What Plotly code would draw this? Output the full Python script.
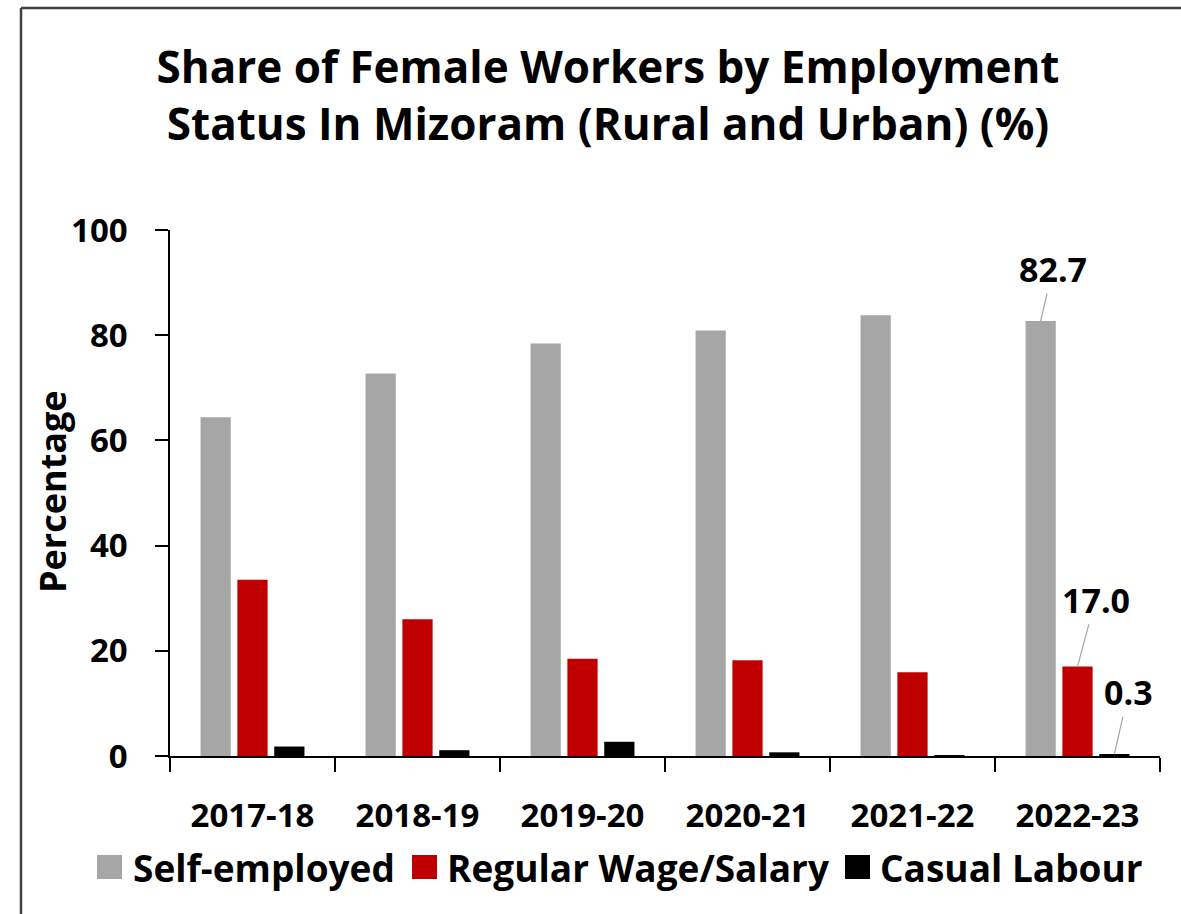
import plotly.graph_objects as go

years = ["2017-18", "2018-19", "2019-20", "2020-21", "2021-22", "2022-23"]
self_employed = [64.4, 72.7, 78.4, 80.9, 83.8, 82.7]
regular_wage = [33.5, 26.0, 18.5, 18.2, 15.9, 17.0]
casual_labour = [1.8, 1.1, 2.7, 0.7, 0.1, 0.3]

series_names = ["Self-employed", "Regular Wage/Salary", "Casual Labour"]
series_colors = ["#a6a6a6", "#c00000", "#000000"]
series_values = [self_employed, regular_wage, casual_labour]

FONT = "Open Sans"
BARGAP = 0.33

W, H = 1181, 914
L, R, T, B = 170, 21, 230, 158
pw, ph = W - L - R, H - T - B


def px_x(p):
    return (p - L) / pw


def px_y(p):
    return 1 - (p - T) / ph


fig = go.Figure()
for name, color, vals in zip(series_names, series_colors, series_values):
    fig.add_trace(go.Bar(x=years, y=vals, name=name, marker_color=color,
                         marker_line_width=0, showlegend=False))

# data labels for last year with leader lines
n = len(series_values)
slot = (1 - BARGAP) / n
last = len(years) - 1
label_offsets = [(12, -52), (18, -67), (14, -62)]
for i, vals in enumerate(series_values):
    xpos = last + (i - (n - 1) / 2) * slot
    ax, ay = label_offsets[i]
    fig.add_annotation(x=xpos, y=vals[last], xref="x", yref="y",
                       text=f"<b>{vals[last]:.1f}</b>", showarrow=True, arrowhead=0,
                       arrowwidth=1.2, arrowcolor="#a6a6a6", ax=ax, ay=ay,
                       font=dict(family=FONT, size=34, color="#000000"),
                       standoff=0)

# frame around the chart (top and left edges visible)
fig.add_shape(type="line", xref="paper", yref="paper",
              x0=px_x(21), x1=px_x(W + 50), y0=px_y(8), y1=px_y(8),
              line=dict(color="#404040", width=2.5), layer="below")
fig.add_shape(type="line", xref="paper", yref="paper",
              x0=px_x(21), x1=px_x(21), y0=px_y(H + 50), y1=px_y(8),
              line=dict(color="#404040", width=2.5), layer="below")

# y-axis title
fig.add_annotation(x=px_x(53), y=px_y(492), xref="paper", yref="paper",
                   text="<b>Percentage</b>", showarrow=False, textangle=-90,
                   xanchor="center", yanchor="middle",
                   font=dict(family=FONT, size=36, color="#000000"))

# legend drawn as squares + text
legend_marker_x = [97, 412, 845]
legend_text_x = [131, 445, 878]
LEG_Y = 867
for name, color, mx, tx in zip(series_names, series_colors, legend_marker_x, legend_text_x):
    fig.add_shape(type="rect", xref="paper", yref="paper",
                  x0=px_x(mx), x1=px_x(mx + 25), y0=px_y(LEG_Y + 12), y1=px_y(LEG_Y - 12),
                  fillcolor=color, line=dict(width=0))
    fig.add_annotation(x=px_x(tx), y=px_y(LEG_Y), xref="paper", yref="paper",
                       text=f"<b>{name}</b>", showarrow=False,
                       xanchor="left", yanchor="middle",
                       font=dict(family=FONT, size=37, color="#000000"))

fig.update_layout(
    width=W, height=H,
    margin=dict(l=L, r=R, t=T, b=B, pad=0),
    paper_bgcolor="white", plot_bgcolor="white",
    barmode="group", bargap=BARGAP, bargroupgap=0.18,
    font=dict(family=FONT, color="#000000"),
    title=dict(text="<b>Share of Female Workers by Employment<br>Status In Mizoram (Rural and Urban) (%)</b>",
               x=px_x(608), xref="paper", xanchor="center",
               y=1 - 83 / H, yanchor="middle",
               font=dict(family=FONT, size=44, color="#000000")),
    xaxis=dict(showline=True, linecolor="#000000", linewidth=1.5,
               ticks="outside", ticklen=14, tickwidth=1.5, tickcolor="#000000",
               tickson="boundaries", ticklabelstandoff=30,
               tickfont=dict(family=FONT, size=33, color="#000000", weight="bold"),
               showgrid=False, zeroline=False),
    yaxis=dict(range=[0, 100], dtick=20, showline=True, linecolor="#000000",
               linewidth=1.5, ticks="outside", ticklen=13, tickwidth=1.5,
               tickcolor="#000000", ticklabelstandoff=21,
               tickfont=dict(family=FONT, size=33, color="#000000", weight="bold"),
               showgrid=False, zeroline=False),
    showlegend=False,
)

fig.write_html("out.html", config={"displayModeBar": False},
               post_script="document.body.style.margin='0';document.body.style.overflow='hidden';")
